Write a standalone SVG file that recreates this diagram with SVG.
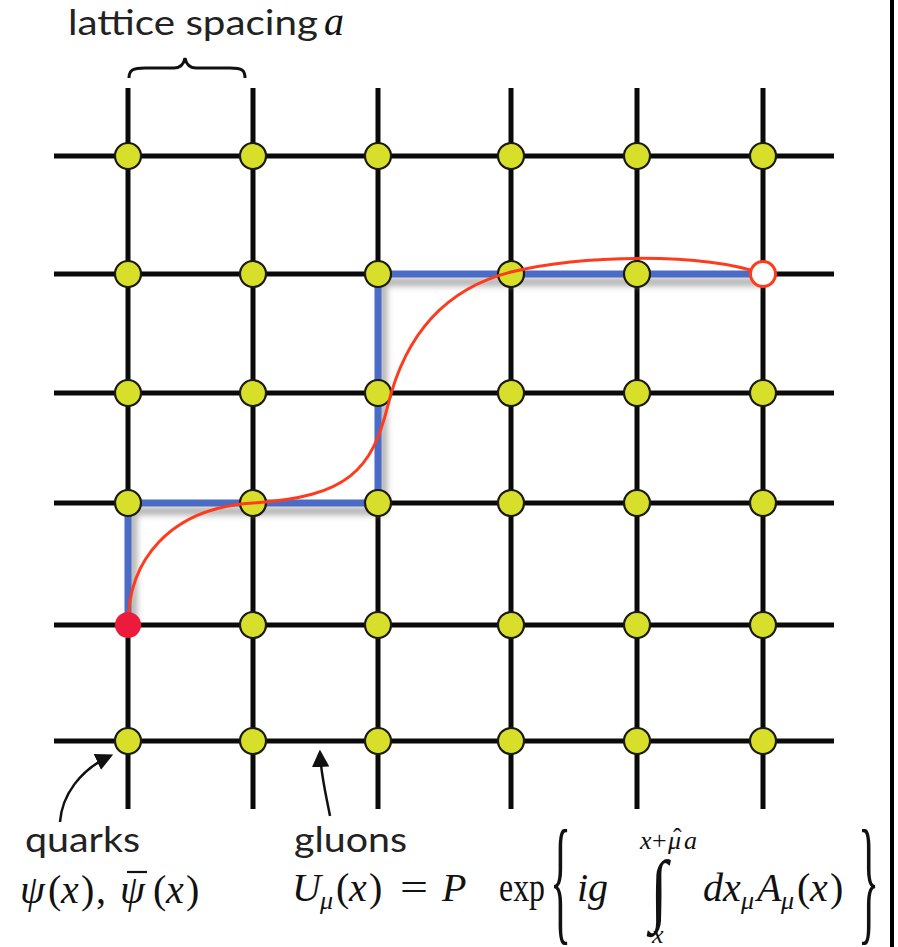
<svg xmlns="http://www.w3.org/2000/svg" width="898" height="947" viewBox="0 0 898 947">
<style>
.grid{stroke:#0a0a0a;stroke-width:5;stroke-linecap:butt;fill:none}
.site{fill:#d7df2a;stroke:#1a1a10;stroke-width:2.2}
.lbl{font-family:Lato,"Open Sans","Liberation Sans",sans-serif;font-size:34px;fill:#222}
.m{font-family:"Liberation Serif","DejaVu Serif",serif;font-style:italic;font-size:40px;fill:#111}
.r{font-family:"Liberation Serif","DejaVu Serif",serif;font-style:normal;font-size:40px;fill:#111}
.s{font-size:26px}
.lim{font-size:26px}
</style>
<defs>
<filter id="sh" x="-10%" y="-10%" width="120%" height="130%">
<feGaussianBlur stdDeviation="3"/>
</filter>
<marker id="ah" viewBox="0 0 10 10" refX="8" refY="5" markerWidth="7" markerHeight="7" orient="auto">
<path d="M0,0 L10,5 L0,10 z" fill="#111"/>
</marker>
</defs>
<rect width="898" height="947" fill="#fff"/>
<line x1="892" y1="0" x2="892" y2="947" stroke="#000" stroke-width="4"/>
<g id="connectors">
<g id="grid-h">
<line class="grid" x1="54" y1="156" x2="834" y2="156"/>
<line class="grid" x1="54" y1="274" x2="834" y2="274"/>
<line class="grid" x1="54" y1="393" x2="834" y2="393"/>
<line class="grid" x1="54" y1="503" x2="834" y2="503"/>
<line class="grid" x1="54" y1="625" x2="834" y2="625"/>
<line class="grid" x1="54" y1="741" x2="834" y2="741"/>
</g>
<g id="grid-v">
<line class="grid" x1="128" y1="88" x2="128" y2="809"/>
<line class="grid" x1="253" y1="88" x2="253" y2="809"/>
<line class="grid" x1="378" y1="88" x2="378" y2="809"/>
<line class="grid" x1="511" y1="88" x2="511" y2="809"/>
<line class="grid" x1="637" y1="88" x2="637" y2="809"/>
<line class="grid" x1="763" y1="88" x2="763" y2="809"/>
</g>
<g id="link-path">
<path d="M133,625 V511 H383 V282 H763" fill="none" stroke="#9a9a9a" stroke-width="8" filter="url(#sh)" opacity="0.8"/>
<path d="M128,625 V503 H378 V274 H763" fill="none" stroke="#4a6cc6" stroke-width="7" stroke-linejoin="miter"/>
</g>
<path id="arrow-quarks" d="M60,822 C62,795 80,770 110,756" fill="none" stroke="#111" stroke-width="2.5" marker-end="url(#ah)"/>
<path id="arrow-gluons" d="M330,816 C326,795 321,775 320,753" fill="none" stroke="#111" stroke-width="2.5" marker-end="url(#ah)"/>
</g>
<g id="nodes">
<g id="n-r0"><circle class="site" cx="128" cy="156" r="13"/><circle class="site" cx="253" cy="156" r="13"/><circle class="site" cx="378" cy="156" r="13"/><circle class="site" cx="511" cy="156" r="13"/><circle class="site" cx="637" cy="156" r="13"/><circle class="site" cx="763" cy="156" r="13"/></g>
<g id="n-r1"><circle class="site" cx="128" cy="274" r="13"/><circle class="site" cx="253" cy="274" r="13"/><circle class="site" cx="378" cy="274" r="13"/><circle class="site" cx="511" cy="274" r="13"/><circle class="site" cx="637" cy="274" r="13"/></g>
<g id="n-r2"><circle class="site" cx="128" cy="393" r="13"/><circle class="site" cx="253" cy="393" r="13"/><circle class="site" cx="378" cy="393" r="13"/><circle class="site" cx="511" cy="393" r="13"/><circle class="site" cx="637" cy="393" r="13"/><circle class="site" cx="763" cy="393" r="13"/></g>
<g id="n-r3"><circle class="site" cx="128" cy="503" r="13"/><circle class="site" cx="253" cy="503" r="13"/><circle class="site" cx="378" cy="503" r="13"/><circle class="site" cx="511" cy="503" r="13"/><circle class="site" cx="637" cy="503" r="13"/><circle class="site" cx="763" cy="503" r="13"/></g>
<g id="n-r4"><circle class="site" cx="253" cy="625" r="13"/><circle class="site" cx="378" cy="625" r="13"/><circle class="site" cx="511" cy="625" r="13"/><circle class="site" cx="637" cy="625" r="13"/><circle class="site" cx="763" cy="625" r="13"/></g>
<g id="n-r5"><circle class="site" cx="128" cy="741" r="13"/><circle class="site" cx="253" cy="741" r="13"/><circle class="site" cx="378" cy="741" r="13"/><circle class="site" cx="511" cy="741" r="13"/><circle class="site" cx="637" cy="741" r="13"/><circle class="site" cx="763" cy="741" r="13"/></g>
</g>
<path id="curve" d="M128,625 C128,560 170,508 253,503 C348,497 372,470 388,405 C404,340 440,290 511,272 C580,255 700,252 763,274" fill="none" stroke="#ff3b1e" stroke-width="3"/>
<g id="n-start"><circle cx="128" cy="625" r="13" fill="#ec1b3b"/></g>
<g id="n-end"><circle cx="763" cy="274" r="12.5" fill="#fff" stroke="#ff3b1e" stroke-width="3"/></g>
<g id="label-spacing">
<text class="lbl" x="68" y="35" textLength="250" lengthAdjust="spacingAndGlyphs">lattice spacing</text>
<text class="m" x="324" y="35" font-size="44">a</text>
<path d="M129,78 C129,70 133,68 145,68 L174,68 C181,68 184,63 185,58 C186,63 189,68 196,68 L230,68 C242,68 245,70 245,78" fill="none" stroke="#111" stroke-width="3"/>
</g>
<g id="label-quarks">
<text class="lbl" x="25" y="852" textLength="115" lengthAdjust="spacingAndGlyphs">quarks</text>
<text class="m" x="20" y="903">ψ</text>
<text class="r" x="48" y="903">(</text>
<text class="m" x="61" y="903">x</text>
<text class="r" x="81" y="903">)</text>
<text class="r" x="96" y="903">,</text>
<text class="m" x="120" y="903">ψ</text>
<line x1="127" y1="872" x2="147" y2="872" stroke="#111" stroke-width="2.2"/>
<text class="r" x="153" y="903">(</text>
<text class="m" x="166" y="903">x</text>
<text class="r" x="186" y="903">)</text>
</g>
<g id="label-gluons">
<text class="lbl" x="294" y="852" textLength="113" lengthAdjust="spacingAndGlyphs">gluons</text>
<text class="m" x="292" y="901">U</text>
<text class="m s" x="320" y="909">μ</text>
<text class="r" x="336" y="901">(</text>
<text class="m" x="349" y="901">x</text>
<text class="r" x="369" y="901">)</text>
<text class="r" x="400" y="901" textLength="28" lengthAdjust="spacingAndGlyphs">=</text>
<text class="m" x="442" y="901">P</text>
<text class="r" x="499" y="901" font-size="34" textLength="46" lengthAdjust="spacingAndGlyphs">exp</text>
<text class="r" font-size="60" transform="translate(550,926) scale(1.1,3.5)">{</text>
<text class="m" x="577" y="901">ig</text>
<text class="r" font-size="64" transform="translate(650,916) scale(1.6,2)">∫</text>
<text class="m lim" x="640" y="849">x</text>
<text class="r lim" x="652" y="849">+</text>
<text class="m lim" x="668" y="849">μ</text>
<text class="r lim" x="673" y="846">ˆ</text>
<text class="m lim" x="684" y="849">a</text>
<text class="m lim" x="652" y="943">x</text>
<text class="m" x="703" y="901">d</text>
<text class="m" x="723" y="901">x</text>
<text class="m s" x="741" y="909">μ</text>
<text class="m" x="757" y="901">A</text>
<text class="m s" x="781" y="909">μ</text>
<text class="r" x="797" y="901">(</text>
<text class="m" x="810" y="901">x</text>
<text class="r" x="830" y="901">)</text>
<text class="r" font-size="60" transform="translate(858,926) scale(1.1,3.5)">}</text>
</g>
</svg>
